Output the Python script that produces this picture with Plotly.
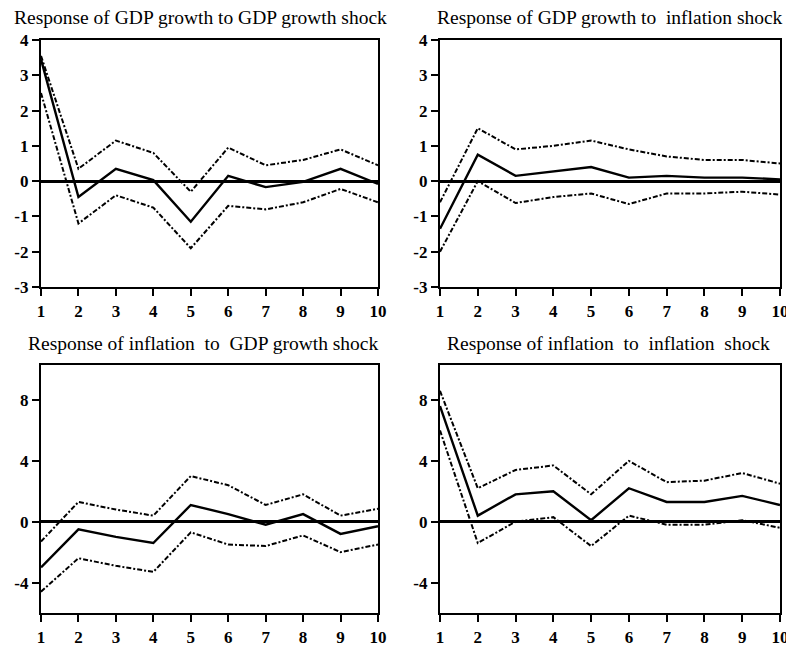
import plotly.graph_objects as go

periods = [1, 2, 3, 4, 5, 6, 7, 8, 9, 10]

titles = [
    "Response of GDP growth to GDP growth shock",
    "Response of GDP growth to  inflation shock",
    "Response of inflation  to  GDP growth shock",
    "Response of inflation  to  inflation  shock",
]

# Panel 1: GDP growth -> GDP growth shock
p1_mid = [3.45, -0.45, 0.35, 0.03, -1.15, 0.15, -0.17, -0.02, 0.35, -0.08]
p1_up = [3.55, 0.35, 1.15, 0.80, -0.30, 0.95, 0.45, 0.60, 0.90, 0.45]
p1_lo = [2.50, -1.20, -0.40, -0.75, -1.90, -0.70, -0.80, -0.60, -0.22, -0.60]

# Panel 2: GDP growth -> inflation shock
p2_mid = [-1.35, 0.75, 0.15, 0.28, 0.40, 0.10, 0.15, 0.10, 0.10, 0.05]
p2_up = [-0.60, 1.50, 0.90, 1.00, 1.15, 0.90, 0.70, 0.60, 0.60, 0.50]
p2_lo = [-2.00, 0.00, -0.62, -0.45, -0.35, -0.65, -0.35, -0.35, -0.30, -0.38]

# Panel 3: inflation -> GDP growth shock
p3_mid = [-3.0, -0.5, -1.0, -1.4, 1.1, 0.5, -0.2, 0.5, -0.8, -0.3]
p3_up = [-1.3, 1.3, 0.8, 0.4, 3.0, 2.4, 1.1, 1.8, 0.4, 0.85]
p3_lo = [-4.6, -2.4, -2.9, -3.3, -0.7, -1.5, -1.6, -0.9, -2.0, -1.5]

# Panel 4: inflation -> inflation shock
p4_mid = [7.6, 0.4, 1.8, 2.0, 0.1, 2.2, 1.3, 1.3, 1.7, 1.1]
p4_up = [8.6, 2.2, 3.4, 3.7, 1.8, 4.0, 2.6, 2.7, 3.2, 2.5]
p4_lo = [6.0, -1.4, 0.0, 0.3, -1.6, 0.4, -0.2, -0.2, 0.1, -0.4]

top_ticks = [-3, -2, -1, 0, 1, 2, 3, 4]
top_tick_text = ["-3", "-2", "-1", "0", "1", "2", "3", "4"]
bottom_ticks = [-4, 0, 4, 8]
bottom_tick_text = ["-4", "0", "4", "8"]
x_tick_text = ["1", "2", "3", "4", "5", "6", "7", "8", "9", "10"]

panels = [
    (p1_mid, p1_up, p1_lo),
    (p2_mid, p2_up, p2_lo),
    (p3_mid, p3_up, p3_lo),
    (p4_mid, p4_up, p4_lo),
]

# page body has an 8px margin, so the figure is offset by (8, 8)
OFF = 8
W, H = 794 - OFF, 646 - OFF


def fx(px):
    return (px - OFF) / W


def fy(py):
    return 1 - (py - OFF) / H


xdoms = [[fx(41), fx(378)], [fx(440), fx(780)]]
ydoms = [[fy(287), fy(40)], [fy(613), fy(365)]]

fig = go.Figure()
serif = "Liberation Serif, Times New Roman, serif"

for i, (mid, up, lo) in enumerate(panels):
    k = i + 1
    xa = "x" if k == 1 else f"x{k}"
    ya = "y" if k == 1 else f"y{k}"
    for series in (up, lo):
        fig.add_trace(go.Scatter(
            x=periods, y=series, mode="lines", xaxis=xa, yaxis=ya,
            line=dict(color="black", width=2, dash="5px,2px,2px,2px"),
            showlegend=False, hoverinfo="skip"))
    fig.add_trace(go.Scatter(
        x=periods, y=mid, mode="lines", xaxis=xa, yaxis=ya,
        line=dict(color="black", width=2.4),
        showlegend=False, hoverinfo="skip"))

    col = i % 2
    row = i // 2
    top = row == 0
    xkey = "xaxis" if k == 1 else f"xaxis{k}"
    ykey = "yaxis" if k == 1 else f"yaxis{k}"
    fig.update_layout(**{
        xkey: dict(
            domain=xdoms[col], anchor=ya, range=[1, 10], automargin=False,
            tickvals=periods, ticktext=x_tick_text, ticks="outside",
            ticklen=7, tickwidth=2.2,
            tickcolor="black", showline=True, linecolor="black",
            linewidth=2.4, mirror=True, showgrid=False, zeroline=False,
            tickfont=dict(family=serif, size=17, color="black", weight="bold"),
        ),
        ykey: dict(
            domain=ydoms[row], anchor=xa, automargin=False,
            range=[-3, 4] if top else [-6, 10.3],
            tickvals=top_ticks if top else bottom_ticks,
            ticktext=top_tick_text if top else bottom_tick_text,
            ticks="outside", ticklen=7, tickwidth=2.2, tickcolor="black",
            showline=True, linecolor="black", linewidth=2.4, mirror=True,
            showgrid=False, zeroline=True, zerolinecolor="black",
            zerolinewidth=2.8,
            tickfont=dict(family=serif, size=17, color="black", weight="bold"),
        ),
    })

title_pos = [(200, 17), (610, 17), (203, 343), (608, 343)]
for t, (cx, cy) in zip(titles, title_pos):
    fig.add_annotation(
        text=t, x=fx(cx), y=fy(cy), xref="paper", yref="paper",
        showarrow=False, xanchor="center", yanchor="middle",
        font=dict(family=serif, size=19.5, color="black"))

fig.update_layout(
    width=W, height=H,
    margin=dict(l=0, r=0, t=0, b=0),
    paper_bgcolor="white", plot_bgcolor="white",
)

fig.write_html("out.html")
